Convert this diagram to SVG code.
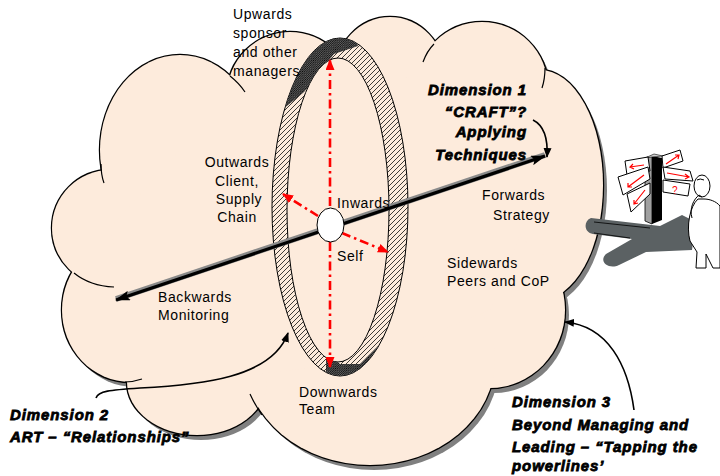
<svg xmlns="http://www.w3.org/2000/svg" width="720" height="476" viewBox="0 0 720 476">
  <style>
    .lobe-shadow { fill: #808080; }
    .lobe-edge { fill: none; stroke: #000; stroke-width: 2.4; }
    .lobe-fill { fill: #fdebdc; stroke: none; }
    .hook { fill: none; stroke: #000; stroke-width: 1.2; }
    .lbl { font-family: "Liberation Sans", Arial, sans-serif; font-size: 14px; letter-spacing: 0.6px; fill: #000; }
    .dim { font-family: "Liberation Sans", Arial, sans-serif; font-size: 15px; font-weight: bold; font-style: italic; letter-spacing: 0.9px; fill: #000; stroke: #000; stroke-width: 0.8px; }
    .red { fill: none; stroke: #ff0000; stroke-width: 2.6; stroke-dasharray: 9 4 2.5 4; }
    .curve { fill: none; stroke: #000; stroke-width: 1.6; }
    .sign { fill: #fff; stroke: #000; stroke-width: 1; }
    .sarrow { fill: none; stroke: #ff0000; stroke-width: 1.2; }
  </style>
  <defs>
    <pattern id="hatch" width="5" height="5" patternUnits="userSpaceOnUse">
      <rect width="5" height="5" fill="#fdebdc"/>
      <path d="M-1,6 L6,-1 M-1,1 L1,-1 M4,6 L6,4" stroke="#000" stroke-width="0.75"/>
    </pattern>
    <pattern id="hatchDense" width="2.2" height="2.2" patternUnits="userSpaceOnUse">
      <rect width="2.2" height="2.2" fill="#6a6a6a"/>
      <path d="M-1,3.2 L3.2,-1" stroke="#000" stroke-width="0.8"/>
    </pattern>
    <clipPath id="ringClip">
      <path clip-rule="evenodd" d="M272,207 a68,169 0 1,0 136,0 a68,169 0 1,0 -136,0 Z M287,210 a51,152 0 1,0 102,0 a51,152 0 1,0 -102,0 Z"/>
    </clipPath>
    <marker id="redHead" markerUnits="userSpaceOnUse" markerWidth="11" markerHeight="9" refX="10" refY="4.5" orient="auto">
      <path d="M0,0 L11,4.5 L0,9 Z" fill="#ff0000"/>
    </marker>
    <marker id="blackHead" markerUnits="userSpaceOnUse" markerWidth="15" markerHeight="10" refX="14" refY="5" orient="auto-start-reverse">
      <path d="M0,0 L15,5 L0,10 L3,5 Z" fill="#000"/>
    </marker>
    <marker id="smallHead" markerUnits="userSpaceOnUse" markerWidth="10" markerHeight="8" refX="9" refY="4" orient="auto">
      <path d="M0,0 L10,4 L0,8 Z" fill="#000"/>
    </marker>
  </defs>

  <!-- cloud: drop shadow, outline (half-stroke trick), fill -->
  <g id="cloud">
    <g class="lobe-shadow" transform="translate(4,5)">
      <ellipse cx="180" cy="150" rx="80" ry="95"/>
      <circle cx="290" cy="95" r="63"/>
      <ellipse cx="390" cy="75" rx="55" ry="58"/>
      <circle cx="482" cy="88" r="66"/>
      <ellipse cx="540" cy="185" rx="63" ry="115"/>
      <ellipse cx="490" cy="310" rx="75" ry="78"/>
      <ellipse cx="370" cy="360" rx="125" ry="105"/>
      <ellipse cx="197" cy="382" rx="70" ry="53"/>
      <ellipse cx="130" cy="310" rx="68" ry="72"/>
      <circle cx="110" cy="228" r="58"/>
      <polygon points="180,150 290,95 390,75 482,88 540,185 490,310 370,360 197,382 130,310 110,228"/>
    </g>
    <g class="lobe-edge">
      <ellipse cx="180" cy="150" rx="80" ry="95"/>
      <circle cx="290" cy="95" r="63"/>
      <ellipse cx="390" cy="75" rx="55" ry="58"/>
      <circle cx="482" cy="88" r="66"/>
      <ellipse cx="540" cy="185" rx="63" ry="115"/>
      <ellipse cx="490" cy="310" rx="75" ry="78"/>
      <ellipse cx="370" cy="360" rx="125" ry="105"/>
      <ellipse cx="197" cy="382" rx="70" ry="53"/>
      <ellipse cx="130" cy="310" rx="68" ry="72"/>
      <circle cx="110" cy="228" r="58"/>
    </g>
    <g class="lobe-fill">
      <ellipse cx="180" cy="150" rx="80" ry="95"/>
      <circle cx="290" cy="95" r="63"/>
      <ellipse cx="390" cy="75" rx="55" ry="58"/>
      <circle cx="482" cy="88" r="66"/>
      <ellipse cx="540" cy="185" rx="63" ry="115"/>
      <ellipse cx="490" cy="310" rx="75" ry="78"/>
      <ellipse cx="370" cy="360" rx="125" ry="105"/>
      <ellipse cx="197" cy="382" rx="70" ry="53"/>
      <ellipse cx="130" cy="310" rx="68" ry="72"/>
      <circle cx="110" cy="228" r="58"/>
      <polygon points="180,150 290,95 390,75 482,88 540,185 490,310 370,360 197,382 130,310 110,228"/>
    </g>
    <!-- short inner arcs where lobes tuck in -->
    <g class="hook">
      <path d="M101,164 Q101,175 104,183"/>
      <path d="M230,76 Q239,83 245,92"/>
      <path d="M423,62 Q427,51 434,44"/>
      <path d="M545,68 Q545,79 542,88"/>
      <path d="M74,273 Q90,286 114,287"/>
      <path d="M125,382 Q133,382 142,379"/>
      <path d="M250,394 Q255,405 262,415"/>
    </g>
  </g>

  <!-- hatched ring -->
  <g id="ring">
    <path fill="url(#hatch)" fill-rule="evenodd" stroke="#000" stroke-width="1" d="M272,207 a68,169 0 1,0 136,0 a68,169 0 1,0 -136,0 Z M287,210 a51,152 0 1,0 102,0 a51,152 0 1,0 -102,0 Z"/>
    <g clip-path="url(#ringClip)">
      <path fill="url(#hatchDense)" d="M282,110 L292,72 L318,42 L352,32 L358,46 L334,54 L304,92 Z"/>
      <path fill="url(#hatchDense)" d="M326,352 L340,364 L360,364 L378,346 L386,356 L360,384 L326,382 Z"/>
    </g>
  </g>

  <!-- connectors -->
  <g id="connectors">
    <line x1="116" y1="299" x2="545" y2="155" stroke="#8a8a8a" stroke-width="6"/>
    <line x1="116" y1="300" x2="545" y2="156" stroke="#000" stroke-width="3.2" marker-start="url(#blackHead)" marker-end="url(#blackHead)"/>
    <path class="red" d="M330,206 L330,60" marker-end="url(#redHead)"/>
    <path class="red" d="M330,242 L330,367" marker-end="url(#redHead)"/>
    <path class="red" d="M318,216 L283,194" marker-end="url(#redHead)"/>
    <path class="red" d="M342,233 L388,252" marker-end="url(#redHead)"/>
    <path class="curve" d="M533,120 C545,126 548,140 547,157" marker-end="url(#smallHead)"/>
    <path class="curve" d="M96,398 C98,391 110,390 140,388 C200,385 272,378 288,333" marker-end="url(#smallHead)"/>
    <path class="curve" d="M634,410 C628,365 608,326 565,322" marker-end="url(#smallHead)"/>
  </g>

  <!-- self node at the centre -->
  <g id="self">
    <ellipse cx="330.5" cy="225" rx="13.5" ry="17" fill="#fff" stroke="#000" stroke-width="1"/>
  </g>

  <!-- direction labels -->
  <g id="upwards">
    <text class="lbl" x="233" y="19">Upwards</text>
    <text class="lbl" x="233" y="38">sponsor</text>
    <text class="lbl" x="233" y="57">and other</text>
    <text class="lbl" x="233" y="76">managers</text>
  </g>
  <g id="outwards" text-anchor="middle">
    <text class="lbl" x="237" y="167">Outwards</text>
    <text class="lbl" x="237" y="186">Client,</text>
    <text class="lbl" x="239" y="204">Supply</text>
    <text class="lbl" x="237" y="222">Chain</text>
  </g>
  <g id="inwards"><text class="lbl" x="337" y="208">Inwards</text></g>
  <g id="self-label"><text class="lbl" x="337" y="261">Self</text></g>
  <g id="forwards">
    <text class="lbl" x="482" y="200">Forwards</text>
    <text class="lbl" x="493" y="220">Strategy</text>
  </g>
  <g id="sidewards">
    <text class="lbl" x="447" y="268">Sidewards</text>
    <text class="lbl" x="447" y="286">Peers and CoP</text>
  </g>
  <g id="backwards">
    <text class="lbl" x="158" y="302">Backwards</text>
    <text class="lbl" x="158" y="320">Monitoring</text>
  </g>
  <g id="downwards">
    <text class="lbl" x="299" y="397">Downwards</text>
    <text class="lbl" x="299" y="414">Team</text>
  </g>

  <!-- dimension captions -->
  <g id="dimension1" text-anchor="end">
    <text class="dim" x="527" y="95">Dimension 1</text>
    <text class="dim" x="527" y="117">“CRAFT”?</text>
    <text class="dim" x="527" y="137">Applying</text>
    <text class="dim" x="527" y="160">Techniques</text>
  </g>
  <g id="dimension2">
    <text class="dim" x="10" y="420">Dimension 2</text>
    <text class="dim" x="10" y="442">ART – “Relationships”</text>
  </g>
  <g id="dimension3">
    <text class="dim" x="512" y="407">Dimension 3</text>
    <text class="dim" x="512" y="430">Beyond Managing and</text>
    <text class="dim" x="512" y="452">Leading – “Tapping the</text>
    <text class="dim" x="512" y="471">powerlines’</text>
  </g>

  <!-- signpost with a thinking figure -->
  <g id="signpost">
    <path fill="#5b6163" d="M591,218 C583,221 584,233 593,234 L632,239 L606,254 C598,262 609,270 619,265 L646,252 L692,250 L696,222 L682,215 L660,226 Z"/>
    <path fill="none" stroke="#000" stroke-width="0.8" d="M594,222 L650,228 M594,233 L630,238"/>
    <polygon fill="#a0a0a0" stroke="#000" stroke-width="0.8" points="645,158 652,156 652,224 645,221"/>
    <polygon fill="#000" points="652,156 662,158 662,220 652,224"/>
    <polygon fill="#d0d0d0" stroke="#000" stroke-width="0.6" points="645,158 654,154 663,156 652,157"/>
    <polygon class="sign" points="625,161 648,157 650,171 627,175"/>
    <path class="sarrow" d="M644,165 L630,167 M633,164 L630,167 L634,169"/>
    <polygon class="sign" points="618,177 648,167 650,179 623,195"/>
    <path class="sarrow" d="M644,175 L628,187 M628,183 L628,187 L632,187"/>
    <polygon class="sign" points="627,194 650,183 650,194 631,212"/>
    <path class="sarrow" d="M645,190 L634,204 M634,200 L634,204 L638,203"/>
    <polygon class="sign" points="662,156 680,150 683,161 663,168"/>
    <path class="sarrow" d="M666,164 L679,155 M675,155 L679,155 L678,159"/>
    <polygon class="sign" points="663,167 690,171 693,181 665,179"/>
    <path class="sarrow" d="M667,173 L689,177 M685,174 L689,177 L685,179"/>
    <polygon class="sign" points="663,180 690,184 688,196 663,192"/>
    <text x="672" y="194" font-family="Liberation Sans, Arial, sans-serif" font-size="10" fill="#ff0000">?</text>
    <!-- figure -->
    <path fill="#fff" stroke="#000" stroke-width="1" d="M698,199 C690,206 686,226 690,241 L697,252 L696,268 L706,268 L706,254 L713,268 L720,268 L720,206 C716,201 709,199 704,199 Z"/>
    <ellipse cx="702" cy="186" rx="8" ry="11" fill="#fff" stroke="#000" stroke-width="1"/>
    <path fill="none" stroke="#000" stroke-width="1" d="M692,218 C689,208 694,199 699,195 M699,195 L702,197 M697,180 Q700,178 704,180"/>
  </g>
</svg>
